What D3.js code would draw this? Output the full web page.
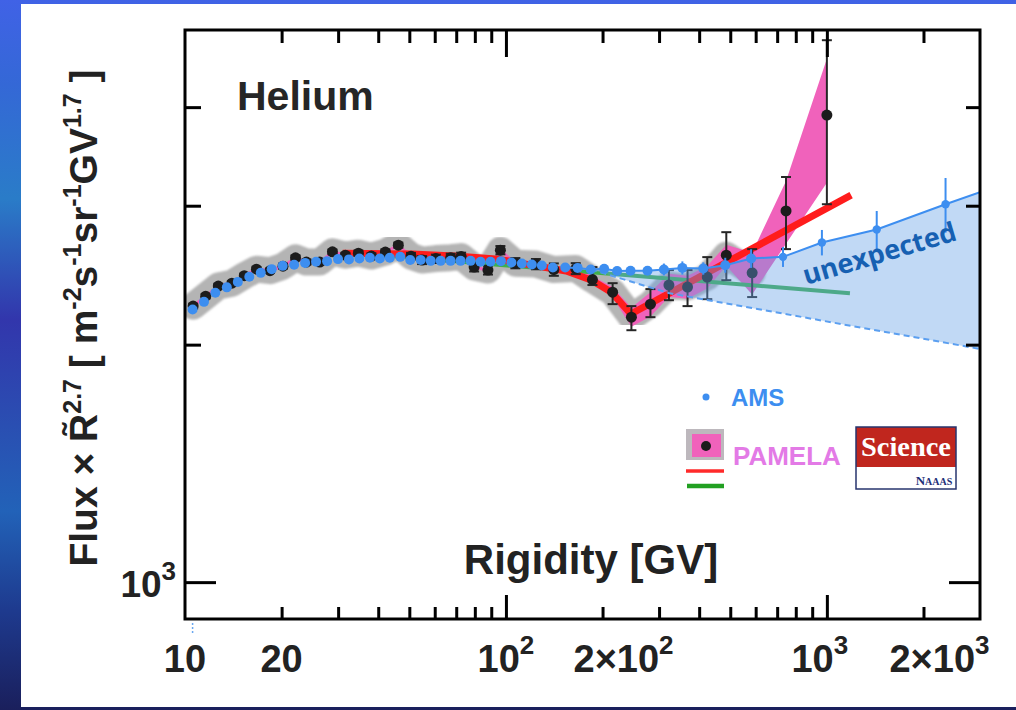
<!DOCTYPE html>
<html>
<head>
<meta charset="utf-8">
<script src="https://cdn.jsdelivr.net/npm/d3@7"></script>
<style>
body { margin: 0; background: #fff; }
svg { display: block; }
text { font-family: "Liberation Sans", Arial, sans-serif; font-weight: bold; }
</style>
</head>
<body>
<svg id="chart" width="1016" height="710"></svg>
<script>
// PAMELA helium points (rigidity GV, flux x R^2.7)
var pamelaR = [10.6, 11.6, 12.7, 14.0, 15.3, 16.7, 18.4, 20.2, 22.1, 23.9, 26.3, 28.8, 31.6, 34.7, 38.1, 42.1, 46.2, 50.6, 54.8, 60.5,
               67.3, 72.5, 79.6, 87.9, 96.1, 107, 124, 141, 165, 186, 215, 246, 282, 322, 368, 424, 486, 585, 746, 1000];
var pamelaF = [2238, 2304, 2373, 2393, 2446, 2493, 2482, 2515, 2577, 2545, 2545, 2622, 2597, 2612, 2590, 2620, 2674, 2589, 2560, 2571,
               2578, 2586, 2508, 2486, 2635, 2537, 2530, 2490, 2497, 2418, 2331, 2167, 2251, 2380, 2366, 2436, 2597, 2466, 2955, 3908];
var pamelaErrUp = [15, 15, 15, 15, 15, 15, 15, 18, 18, 18, 18, 18, 18, 20, 20, 20, 20, 25, 30, 30,
                   30, 30, 32, 32, 32, 38, 38, 45, 40, 90, 62, 71, 101, 106, 120, 146, 180, 177, 307, 955];
var pamelaErrDn = [15, 15, 15, 15, 15, 15, 15, 18, 18, 18, 18, 18, 18, 20, 20, 20, 20, 25, 30, 30,
                   30, 30, 32, 32, 32, 38, 38, 45, 40, 38, 80, 81, 84, 103, 128, 152, 183, 168, 312, 895];
// statistical (pink) band half width
var pamelaBand = [12, 12, 12, 12, 12, 12, 12, 12, 12, 12, 12, 12, 12, 12, 12, 12, 12, 12, 12, 12,
                  12, 12, 12, 12, 12, 12, 12, 14, 16, 25, 35, 60, 80, 80, 80, 80, 80, 150, 270, 700];

// AMS helium points
var amsR = [10.56, 11.46, 12.43, 13.50, 14.61, 15.86, 17.22, 18.63, 20.15, 21.88, 23.67, 25.61, 27.71, 29.97, 32.43, 34.95, 37.68,
            40.47, 43.46, 46.86, 50.33, 54.26, 58.29, 62.60, 67.23, 72.23, 77.59, 83.33, 89.51, 96.5, 104.0, 112.1, 120.4, 129.4,
            140.0, 153.0, 167.3, 183.7, 202.3, 222.0, 244.5, 276.1, 310.6, 354.6, 412.0, 482.3, 580.7, 730.0, 965, 1430, 2343];
var amsF = [2216, 2266, 2327, 2364, 2402, 2438, 2466, 2493, 2517, 2525, 2539, 2547, 2552, 2567, 2565, 2572, 2577,
            2572, 2577, 2584, 2560, 2560, 2554, 2554, 2554, 2554, 2554, 2547, 2547, 2552, 2542, 2535, 2527, 2520,
            2505, 2505, 2502, 2491, 2495, 2480, 2481, 2481, 2491, 2502, 2498, 2522, 2572, 2584, 2695, 2799, 3013];
var amsErr = [0, 0, 0, 0, 0, 0, 0, 0, 0, 0, 0, 0, 0, 0, 0, 0, 0,
              0, 0, 0, 0, 0, 0, 0, 0, 0, 0, 0, 0, 0, 0, 0, 0, 0,
              0, 0, 0, 20, 22, 22, 25, 30, 43, 48, 45, 55, 70, 75, 100, 155, 240];
// AMS trend continued to the edge, and the lower (dashed) extrapolation
var amsExtR = [3000];
var amsExtF = [3120];
var dashR = [184, 321, 3000];
var dashF = [2491, 2325, 1975];

// fits
var redR = [31, 51, 71.5, 95, 120, 154, 185, 213, 245, 1190];
var redF = [2612, 2605, 2589, 2567, 2522, 2479, 2414, 2331, 2187, 3094];
var greenR = [31, 1180];
var greenF = [2620, 2324];

// axes
var xMinorTicks = [20, 30, 40, 50, 60, 70, 80, 90, 200, 300, 400, 500, 600, 700, 800, 900, 2000];
var xMajorTicks = [100, 1000];
var yMinorTicks = [2000, 3000, 4000];
var yMajorTicks = [1000];
var xLabelValues = [10, 20, 100, 200, 1000, 2000];
var xLabelBase = ["10", "20", "10", "2\u00d710", "10", "2\u00d710"];
var xLabelSup = ["", "", "2", "2", "3", "3"];

var svg = d3.select("#chart");
var defs = svg.append("defs");

var bg = defs.append("linearGradient").attr("id", "bg").attr("x1", 0).attr("y1", 0).attr("x2", 0).attr("y2", 1);
[[0, "#4062e6"], [0.12, "#3468d6"], [0.28, "#2a7cc8"], [0.45, "#3236ac"], [0.6, "#2a4fb2"],
 [0.72, "#2262b8"], [0.86, "#1e3a8e"], [1, "#1a1f5c"]].forEach(function (s) {
    bg.append("stop").attr("offset", s[0]).attr("stop-color", s[1]);
});
svg.append("rect").attr("width", 1016).attr("height", 710).attr("fill", "url(#bg)");
svg.append("rect").attr("x", 21).attr("y", 4).attr("width", 995).attr("height", 703).attr("fill", "#fff");

var m = { left: 185, top: 30, right: 980, bottom: 619 };
var x = d3.scaleLog().domain([10, 3000]).range([m.left, m.right]);
var y = d3.scaleLog().domain([898, 5010]).range([m.bottom, m.top]);

defs.append("clipPath").attr("id", "plotClip").append("rect")
    .attr("x", m.left).attr("y", m.top).attr("width", m.right - m.left).attr("height", m.bottom - m.top);
defs.append("filter").attr("id", "soft").append("feGaussianBlur").attr("stdDeviation", 1);

var pam = pamelaR.map(function (r, i) {
    return { r: r, f: pamelaF[i], up: pamelaErrUp[i], dn: pamelaErrDn[i], band: pamelaBand[i] };
});
var ams = amsR.map(function (r, i) { return { r: r, f: amsF[i], e: amsErr[i] }; });

var line = d3.line().x(function (d) { return x(d.r); }).y(function (d) { return y(d.f); });
function pairs(rs, fs) { return rs.map(function (r, i) { return { r: r, f: fs[i] }; }); }

var g = svg.append("g").attr("clip-path", "url(#plotClip)");

// systematic band (gray)
g.append("path")
    .datum(pam.filter(function (d) { return d.r <= 600; }))
    .attr("d", line)
    .attr("fill", "none")
    .attr("stroke", "#b4b4b4")
    .attr("stroke-width", 27)
    .attr("stroke-linejoin", "round")
    .attr("stroke-linecap", "round")
    .attr("filter", "url(#soft)");

// statistical band (pink)
g.append("path")
    .datum(pam)
    .attr("d", d3.area()
        .x(function (d) { return x(d.r); })
        .y0(function (d) { return y(d.f - d.band); })
        .y1(function (d) { return y(d.f + d.band); }))
    .attr("fill", "#f062bb");

// single power law (green) and broken fit (red)
g.append("path").datum(pairs(greenR, greenF)).attr("d", line)
    .attr("fill", "none").attr("stroke", "#3fb04c").attr("stroke-width", 4);
g.append("path").datum(pairs(redR, redF)).attr("d", line)
    .attr("fill", "none").attr("stroke", "#ff1c1c").attr("stroke-width", 7).attr("stroke-linejoin", "round");

// PAMELA error bars and points
var eb = g.append("g").attr("stroke", "#262626").attr("stroke-width", 2);
pam.forEach(function (d) {
    var cx = x(d.r), y1 = y(d.f + d.up), y2 = y(d.f - d.dn);
    eb.append("line").attr("x1", cx).attr("x2", cx).attr("y1", y1).attr("y2", y2);
    eb.append("line").attr("x1", cx - 5).attr("x2", cx + 5).attr("y1", y1).attr("y2", y1);
    eb.append("line").attr("x1", cx - 5).attr("x2", cx + 5).attr("y1", y2).attr("y2", y2);
});
g.selectAll(".pam").data(pam).enter().append("circle")
    .attr("cx", function (d) { return x(d.r); })
    .attr("cy", function (d) { return y(d.f); })
    .attr("r", 5.5)
    .attr("fill", "#1c1c1c");

// "unexpected" region
var topEdge = ams.filter(function (d) { return d.r >= 183; }).concat(pairs(amsExtR, amsExtF));
var lowEdge = pairs(dashR, dashF);
g.append("path")
    .attr("d", line(topEdge.concat(lowEdge.slice().reverse())) + "Z")
    .attr("fill", "rgb(100,160,230)")
    .attr("fill-opacity", 0.4);
g.append("path").datum(lowEdge).attr("d", line)
    .attr("fill", "none").attr("stroke", "#5b9ff0").attr("stroke-width", 2).attr("stroke-dasharray", "6,4");

// AMS line, error bars, points
g.append("path")
    .datum(ams.filter(function (d) { return d.r >= 150; }).concat(pairs(amsExtR, amsExtF)))
    .attr("d", line)
    .attr("fill", "none").attr("stroke", "#3d8ef0").attr("stroke-width", 2);
g.selectAll(".amsErr").data(ams.filter(function (d) { return d.e > 0; })).enter().append("line")
    .attr("x1", function (d) { return x(d.r); })
    .attr("x2", function (d) { return x(d.r); })
    .attr("y1", function (d) { return y(d.f + d.e); })
    .attr("y2", function (d) { return y(d.f - d.e); })
    .attr("stroke", "#3d8ef0").attr("stroke-width", 2);
g.selectAll(".ams").data(ams).enter().append("circle")
    .attr("cx", function (d) { return x(d.r); })
    .attr("cy", function (d) { return y(d.f); })
    .attr("r", function (d) { return d.r > 700 ? 4.2 : 5; })
    .attr("fill", "#3d8ef0");

g.append("text")
    .attr("transform", "translate(806,285) rotate(-16.5)")
    .attr("fill", "#1660b2")
    .style("font-family", "'Open Sans', sans-serif")
    .style("font-size", "27px")
    .text("unexpected");

// small stray mark under the first AMS bin
svg.append("line")
    .attr("x1", x(amsR[0])).attr("x2", x(amsR[0])).attr("y1", 623).attr("y2", 634)
    .attr("stroke", "#6aa8f0").attr("stroke-width", 1.5).attr("stroke-dasharray", "2,2");

// frame
svg.append("rect")
    .attr("x", m.left).attr("y", m.top).attr("width", m.right - m.left).attr("height", m.bottom - m.top)
    .attr("fill", "none").attr("stroke", "#000").attr("stroke-width", 3);

function ticks(gen, vals, size, tr) {
    svg.append("g").attr("transform", tr)
        .call(gen.tickValues(vals).tickSize(size).tickFormat(""))
        .call(function (a) { a.select(".domain").remove(); })
        .selectAll("line").attr("stroke", "#000").attr("stroke-width", 3);
}
ticks(d3.axisBottom(x), xMinorTicks, -12, "translate(0," + m.bottom + ")");
ticks(d3.axisBottom(x), xMajorTicks, -24, "translate(0," + m.bottom + ")");
ticks(d3.axisTop(x), xMinorTicks, -13, "translate(0," + m.top + ")");
ticks(d3.axisTop(x), xMajorTicks, -27, "translate(0," + m.top + ")");
ticks(d3.axisLeft(y), yMinorTicks, -16, "translate(" + m.left + ",0)");
ticks(d3.axisLeft(y), yMajorTicks, -31, "translate(" + m.left + ",0)");
ticks(d3.axisRight(y), yMinorTicks, -14, "translate(" + m.right + ",0)");
ticks(d3.axisRight(y), yMajorTicks, -31, "translate(" + m.right + ",0)");

// tick labels
var labelShift = { 200: 21, 1000: -7, 2000: 16 };
xLabelValues.forEach(function (v, i) {
    var t = svg.append("text")
        .attr("x", x(v) + (labelShift[v] || 0))
        .attr("y", 672)
        .attr("text-anchor", "middle")
        .attr("fill", "#222")
        .style("font-size", "38px");
    t.append("tspan").text(xLabelBase[i]);
    if (xLabelSup[i]) t.append("tspan").attr("dy", -18).style("font-size", "26px").text(xLabelSup[i]);
});
var yl = svg.append("text")
    .attr("x", 176).attr("y", 597).attr("text-anchor", "end").attr("fill", "#222").style("font-size", "37px");
yl.append("tspan").text("10");
yl.append("tspan").attr("dy", -17).style("font-size", "26px").text("3");

// titles
svg.append("text").attr("x", 237).attr("y", 110).attr("fill", "#262626").style("font-size", "41px").text("Helium");
svg.append("text").attr("x", 591).attr("y", 574).attr("text-anchor", "middle").attr("fill", "#222")
    .style("font-size", "42px").text("Rigidity [GV]");

var yt = svg.append("text")
    .attr("transform", "translate(97,318) rotate(-90)")
    .attr("text-anchor", "middle")
    .attr("fill", "#222")
    .style("font-size", "39px");
[["Flux \u00d7 R\u0303", 0], ["2.7", 1], [" [ m", 0], ["-2", 1], ["s", 0], ["-1", 1], ["sr", 0], ["-1", 1],
 ["GV", 0], ["1.7", 1], [" ]", 0]].forEach(function (p, i, arr) {
    var prevSup = i > 0 && arr[i - 1][1];
    var ts = yt.append("tspan").text(p[0]);
    if (p[1]) ts.attr("dy", -16).style("font-size", "25px");
    else if (prevSup) ts.attr("dy", 16);
});

// legend
svg.append("circle").attr("cx", 706).attr("cy", 397).attr("r", 3.5).attr("fill", "#3d8ef0");
svg.append("text").attr("x", 731).attr("y", 406).attr("fill", "#3d8ef0").style("font-size", "24px").text("AMS");
svg.append("rect").attr("x", 686).attr("y", 429).attr("width", 38).attr("height", 31).attr("fill", "#bdb8bd");
svg.append("rect").attr("x", 692).attr("y", 434).attr("width", 29).attr("height", 23).attr("fill", "#f062bb");
svg.append("circle").attr("cx", 706).attr("cy", 446).attr("r", 5).attr("fill", "#1c1c1c");
svg.append("text").attr("x", 733).attr("y", 465).attr("fill", "#e37ae6").style("font-size", "26px").text("PAMELA");
svg.append("line").attr("x1", 686).attr("x2", 724).attr("y1", 471).attr("y2", 471)
    .attr("stroke", "#ff2a2a").attr("stroke-width", 3.5);
svg.append("line").attr("x1", 687).attr("x2", 724).attr("y1", 486).attr("y2", 486)
    .attr("stroke", "#22a022").attr("stroke-width", 4.5);

// Science logo
var logo = svg.append("g").attr("transform", "translate(856,427)");
logo.append("rect").attr("width", 100).attr("height", 62).attr("fill", "#fff");
logo.append("rect").attr("width", 100).attr("height", 40).attr("fill", "#c0261e");
logo.append("rect").attr("width", 100).attr("height", 62).attr("fill", "none").attr("stroke", "#27346e").attr("stroke-width", 1.5);
logo.append("text").attr("x", 50).attr("y", 29).attr("text-anchor", "middle").attr("fill", "#fff")
    .style("font-family", "'Liberation Serif', 'Times New Roman', serif").style("font-size", "27px")
    .attr("textLength", 90).attr("lengthAdjust", "spacingAndGlyphs").text("Science");
var aaas = logo.append("text").attr("x", 78).attr("y", 58).attr("text-anchor", "middle").attr("fill", "#1e2f78")
    .style("font-family", "'Liberation Serif', 'Times New Roman', serif");
aaas.append("tspan").style("font-size", "13px").text("N");
aaas.append("tspan").style("font-size", "10px").text("AAAS");
</script>
</body>
</html>
